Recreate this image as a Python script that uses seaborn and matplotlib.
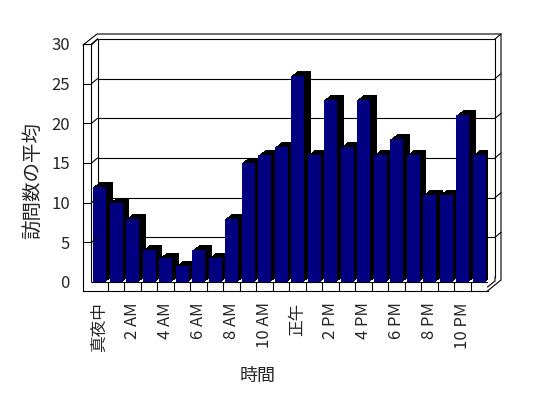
import numpy as np
import matplotlib
matplotlib.use("Agg")
import matplotlib.pyplot as plt
import matplotlib.transforms as mtransforms
from matplotlib.lines import Line2D
from matplotlib.patches import Rectangle
import seaborn as sns

# data: average number of visits per hour of the day
hours = ["真夜中", "1 AM", "2 AM", "3 AM", "4 AM", "5 AM", "6 AM", "7 AM",
         "8 AM", "9 AM", "10 AM", "11 AM", "正午", "1 PM", "2 PM", "3 PM",
         "4 PM", "5 PM", "6 PM", "7 PM", "8 PM", "9 PM", "10 PM", "11 PM"]
visits = [12, 10, 8, 4, 3, 2, 4, 3, 8, 15, 16, 17,
          26, 16, 23, 17, 23, 16, 18, 16, 11, 11, 21, 16]
tick_hours = hours[::2]
y_ticks = [0, 5, 10, 15, 20, 25, 30]

NAVY = "#000080"
W, H = 548, 398
LW = 0.8

sns.set_style("white")
plt.rcParams["font.family"] = ["Noto Sans CJK JP", "DejaVu Sans"]

fig = plt.figure(figsize=(W / 100, H / 100), dpi=100)
ident = mtransforms.IdentityTransform()


def box(x0, y0, x1, y1):
    """Axes rect from pixel box (y measured from top)."""
    return [x0 / W, 1 - y1 / H, (x1 - x0) / W, (y1 - y0) / H]


def px_line(xs, ys):
    """Frame line in image pixels (y measured from top)."""
    fig.add_artist(Line2D(xs, [H - y for y in ys], transform=ident,
                          color="black", lw=LW))


# back wall with gridlines
ax_wall = fig.add_axes(box(97.5, 39, 495, 277))
ax_wall.set_ylim(0, 30)
ax_wall.set_xticks([])
ax_wall.set_yticks([])
for v in y_ticks[1:-1]:
    ax_wall.axhline(v, color="black", lw=LW)
ax_wall.spines["bottom"].set_visible(False)
for s in ["top", "left", "right"]:
    ax_wall.spines[s].set_linewidth(LW)
    ax_wall.spines[s].set_color("black")

# front plane with the bars
ax = fig.add_axes(box(83, 44, 487.5, 291))
ax.patch.set_visible(False)
sns.barplot(x=hours, y=visits, color=NAVY, saturation=1, width=0.76,
            linewidth=0, ax=ax)

# extruded black depth behind each bar
fronts = list(ax.patches)
for t in np.linspace(0.1, 1, 10):
    tr = mtransforms.offset_copy(ax.transData, fig=fig, x=6.5 * t, y=5 * t, units="dots")
    for p in fronts:
        ax.add_patch(Rectangle(p.get_xy(), p.get_width(), p.get_height(),
                               transform=tr, facecolor="black", lw=0, zorder=2))
for p in fronts:
    p.set_zorder(3)

y_floor = -1.135
ax.set_xlim(-1.015, 23.5)
ax.set_ylim(y_floor, 30)

# floor slab
ax.hlines(0, -0.5, 23.5, color="black", lw=LW, zorder=1)
ax.vlines(np.arange(0.5, 24), y_floor, 0, color="black", lw=LW, zorder=1)

ax.set_xticks(range(0, 24, 2))
ax.set_xticklabels(tick_hours, rotation=90)
ax.tick_params(axis="x", bottom=False, length=0, pad=8.2, labelsize=12)
ax.set_yticks(y_ticks)
ax.tick_params(axis="y", left=True, direction="in", length=6.1, width=LW,
               pad=9.4, labelsize=12, color="black")
ax.yaxis.get_major_ticks()[0].tick1line.set_visible(False)

ax.spines["top"].set_visible(False)
ax.spines["right"].set_visible(False)
for s in ["left", "bottom"]:
    ax.spines[s].set_linewidth(LW)
    ax.spines[s].set_color("black")

ax.set_xlabel("時間", fontsize=13)
ax.xaxis.label.set_va("center")
ax.xaxis.set_label_coords(0.4326, -0.344)
ax.set_ylabel("訪問数の平均", fontsize=14)
ax.yaxis.label.set_va("center")
ax.yaxis.set_label_coords(-0.1236, 0.449)

# left wall: tick diagonals toward the back wall
for v in y_ticks[1:]:
    x0, y0 = ax.transData.transform((-0.5, v))
    fig.add_artist(Line2D([x0, x0 + 6], [y0, y0 + 5], transform=ident,
                          color="black", lw=LW))
# right wall: gridline diagonals
for v in y_ticks[1:]:
    x0, y0 = ax_wall.transData.transform((1, v))
    fig.add_artist(Line2D([x0, x0 + 6], [y0, y0 + 5], transform=ident,
                          color="black", lw=LW))

# outer frame of the 3-D box
px_line([83, 97, 501, 501, 487.5], [45, 34, 34, 280, 291])
px_line([91.5, 91.5, 97.5], [282, 45, 39])
px_line([495, 495, 487.5], [277, 281, 287])

fig.savefig("out.png", dpi=100, facecolor="white")
